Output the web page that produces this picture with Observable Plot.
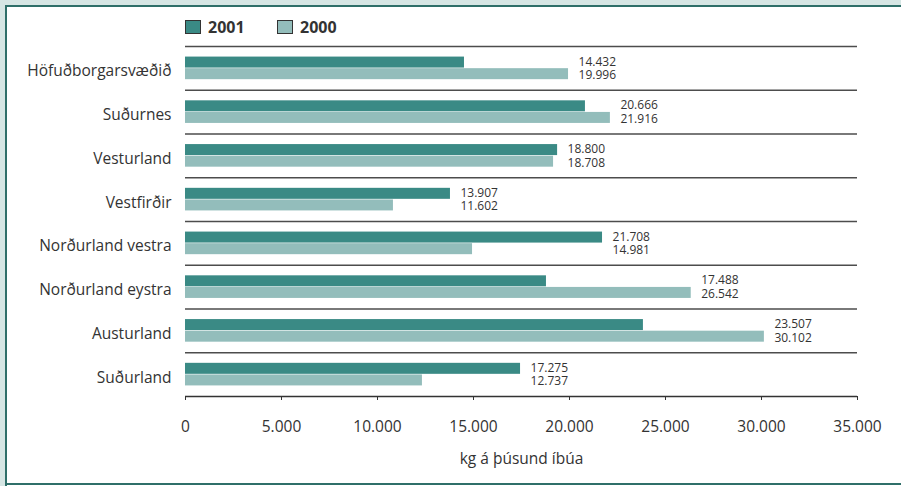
<!DOCTYPE html>
<html>
<head>
<meta charset="utf-8">
<script src="https://cdn.jsdelivr.net/npm/d3@7"></script>
<script src="https://cdn.jsdelivr.net/npm/@observablehq/plot@0.6"></script>
<style>
  body { margin: 0; background: #fff; font-family: "Open Sans", sans-serif; }
  #wrap { position: relative; width: 901px; height: 486px; overflow: hidden; background: #fff; }
  .deco { position: absolute; }
  #legend { position: absolute; left: 0; top: 0; width: 901px; height: 40px; }
  .item { position: absolute; top: 16px; display: flex; align-items: center; font-size: 16px; font-weight: 700; color: #333; }
  .sw { width: 16px; height: 14px; box-sizing: border-box; border: 1px solid #333; margin-right: 7px; }
  #chart { position: absolute; left: 0; top: 40px; }
</style>
</head>
<body>
<div id="wrap">
  <div class="deco" style="left:0;top:0;width:901px;height:5px;background:#d6e6e4"></div>
  <div class="deco" style="left:0;top:0;width:5px;height:486px;background:#d6e6e4"></div>
  <div class="deco" style="left:5px;top:5px;width:896px;height:2px;background:#2f6f69"></div>
  <div class="deco" style="left:5px;top:5px;width:2px;height:481px;background:#2f6f69"></div>
  <div class="deco" style="left:5px;top:483px;width:896px;height:2px;background:#2f6f69"></div>
  <div id="legend"></div>
  <div id="chart"></div>
</div>
<script>
// ---- data ----
const regions = ["Höfuðborgarsvæðið", "Suðurnes", "Vesturland", "Vestfirðir",
                 "Norðurland vestra", "Norðurland eystra", "Austurland", "Suðurland"];
const years = ["2001", "2000"];
const colors = ["#3a8a85", "#93bdbb"];
// bar lengths as drawn in the reference
const bars2001 = [14530, 20830, 19380, 13800, 21720, 18800, 23850, 17450];
const bars2000 = [19950, 22130, 19170, 10830, 14950, 26340, 30150, 12340];
// value labels as printed in the reference
const labels2001 = ["14.432", "20.666", "18.800", "13.907", "21.708", "17.488", "23.507", "17.275"];
const labels2000 = ["19.996", "21.916", "18.708", "11.602", "14.981", "26.542", "30.102", "12.737"];
const xTicks = [0, 5000, 10000, 15000, 20000, 25000, 30000, 35000];
const xLabel = "kg á þúsund íbúa";

// ---- legend ----
const legend = document.getElementById("legend");
const legendLeft = [185, 277];
years.forEach((y, i) => {
  const it = document.createElement("div");
  it.className = "item";
  it.style.left = legendLeft[i] + "px";
  const sw = document.createElement("div");
  sw.className = "sw";
  sw.style.background = colors[i];
  const t = document.createElement("span");
  t.textContent = y;
  it.appendChild(sw); it.appendChild(t);
  legend.appendChild(it);
});

// ---- chart ----
const rows = regions.map((r, i) => ({
  region: r,
  v2001: bars2001[i],
  v2000: bars2000[i],
  max: Math.max(bars2001[i], bars2000[i]),
  l2001: labels2001[i],
  l2000: labels2000[i]
}));

const H = 440, MT = 6, MB = 84;
const bw = (H - MT - MB) / regions.length;
const fmt = d => d3.format(",")(d).replace(/,/g, ".");

const chart = Plot.plot({
  width: 901,
  height: H,
  marginTop: MT,
  marginBottom: MB,
  marginLeft: 185,
  marginRight: 44,
  style: { fontFamily: "'Open Sans', sans-serif", fontSize: "15px", color: "#333", background: "transparent" },
  x: { domain: [0, 35000] },
  y: { domain: regions, padding: 0, round: false },
  marks: [
    Plot.ruleY(regions, { y: d => d, dy: -bw / 2, stroke: "#4d4d4d", strokeWidth: 1.3 }),
    Plot.ruleY(regions.slice(-1), { y: d => d, dy: bw / 2, stroke: "#333", strokeWidth: 1.3 }),
    Plot.barX(rows, { y: "region", x: "v2001", fill: colors[0], insetTop: bw / 2 - 11.3, insetBottom: bw / 2 + 0.3 }),
    Plot.barX(rows, { y: "region", x: "v2000", fill: colors[1], insetTop: bw / 2 + 0.3, insetBottom: bw / 2 - 11.3 }),
    Plot.text(rows, { y: "region", x: "max", text: "l2001", dx: 10, dy: -6.5, textAnchor: "start", fontSize: 12, fill: "#333" }),
    Plot.text(rows, { y: "region", x: "max", text: "l2000", dx: 10, dy: 6.8, textAnchor: "start", fontSize: 12, fill: "#333" }),
    Plot.axisY({ tickSize: 0, tickPadding: 14, dy: 3, fontSize: 15.5, label: null, fill: "#333" }),
    Plot.axisX({ ticks: xTicks, tickSize: 4, tickPadding: 20, tickFormat: fmt, fontSize: 15, fill: "#333", stroke: "#333",
                 label: xLabel, labelAnchor: "center", labelArrow: "none", labelOffset: 67, fontSize: 15.5 })
  ]
});
document.getElementById("chart").appendChild(chart);
</script>
</body>
</html>
